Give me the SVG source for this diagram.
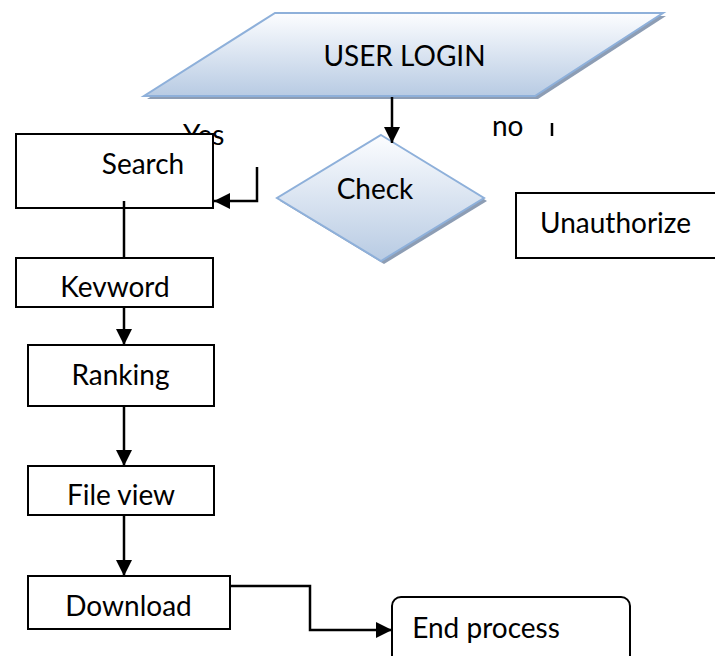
<svg xmlns="http://www.w3.org/2000/svg" width="715" height="656" viewBox="0 0 715 656">
<style>
.t{font-family:Lato,"Open Sans","Liberation Sans",sans-serif;font-size:28px;fill:#000}
.m{text-anchor:middle}
.box{fill:#fff;stroke:#000;stroke-width:2}
.shape{fill:url(#g);stroke:#8eb0da;stroke-width:2}
.shadow{fill:#8d9db4}
.c{fill:none;stroke:#000;stroke-width:2.5}
</style>
<defs>
<linearGradient id="g" x1="0" y1="0" x2="0" y2="1">
<stop offset="0" stop-color="#fcfdff"/>
<stop offset="1" stop-color="#b8cbe3"/>
</linearGradient>
<marker id="ah" markerUnits="userSpaceOnUse" markerWidth="17" markerHeight="17" refX="16" refY="8" orient="auto">
<path d="M0,0 L16,8 L0,16 z" fill="#000"/>
</marker>
</defs>
<text class="t" x="183" y="145">Yes</text>
<text class="t" x="492" y="136">no</text>
<g id="login">
<polygon class="shadow" points="278,16 666,16 538,99 147,99"/>
<polygon class="shape" points="275,13 663,13 535,96 144,96"/>
<text class="t m" x="404.5" y="66">USER LOGIN</text>
</g>
<g id="check">
<polygon class="shadow" points="384,138 487,201 384,264 280,201"/>
<polygon class="shape" points="381,135 484,198 381,261 277,198"/>
<text class="t m" x="375" y="199">Check</text>
</g>
<g id="search">
<rect class="box" x="16" y="134" width="197" height="74"/>
<text class="t m" x="143" y="174">Search</text>
</g>
<g id="unauthorize">
<rect class="box" x="516" y="193" width="210" height="65"/>
<text class="t m" x="615.5" y="233">Unauthorize</text>
</g>
<g id="keyword">
<rect class="box" x="16" y="258" width="197" height="49"/>
<text class="t m" x="115" y="297">Kevword</text>
</g>
<g id="ranking">
<rect class="box" x="28" y="345" width="186" height="61"/>
<text class="t m" x="120.5" y="385">Ranking</text>
</g>
<g id="fileview">
<rect class="box" x="28" y="466" width="186" height="49"/>
<text class="t m" x="121" y="505">File view</text>
</g>
<g id="download">
<rect class="box" x="28" y="576" width="202" height="53"/>
<text class="t m" x="128.5" y="616">Download</text>
</g>
<g id="end">
<rect class="box" x="392" y="597" width="238" height="70" rx="9"/>
<text class="t m" x="486" y="638">End process</text>
</g>
<g id="connectors">
<path class="c" d="M392,97 V143" marker-end="url(#ah)"/>
<path class="c" d="M257,167 V201 H214" marker-end="url(#ah)"/>
<path class="c" d="M124,201 V258"/>
<path class="c" d="M124,307 V345" marker-end="url(#ah)"/>
<path class="c" d="M124,406 V466" marker-end="url(#ah)"/>
<path class="c" d="M124,515 V576" marker-end="url(#ah)"/>
<path class="c" d="M230,586 H310 V630 H392" marker-end="url(#ah)"/>
<path class="c" d="M552,123 V136"/>
</g>
</svg>
